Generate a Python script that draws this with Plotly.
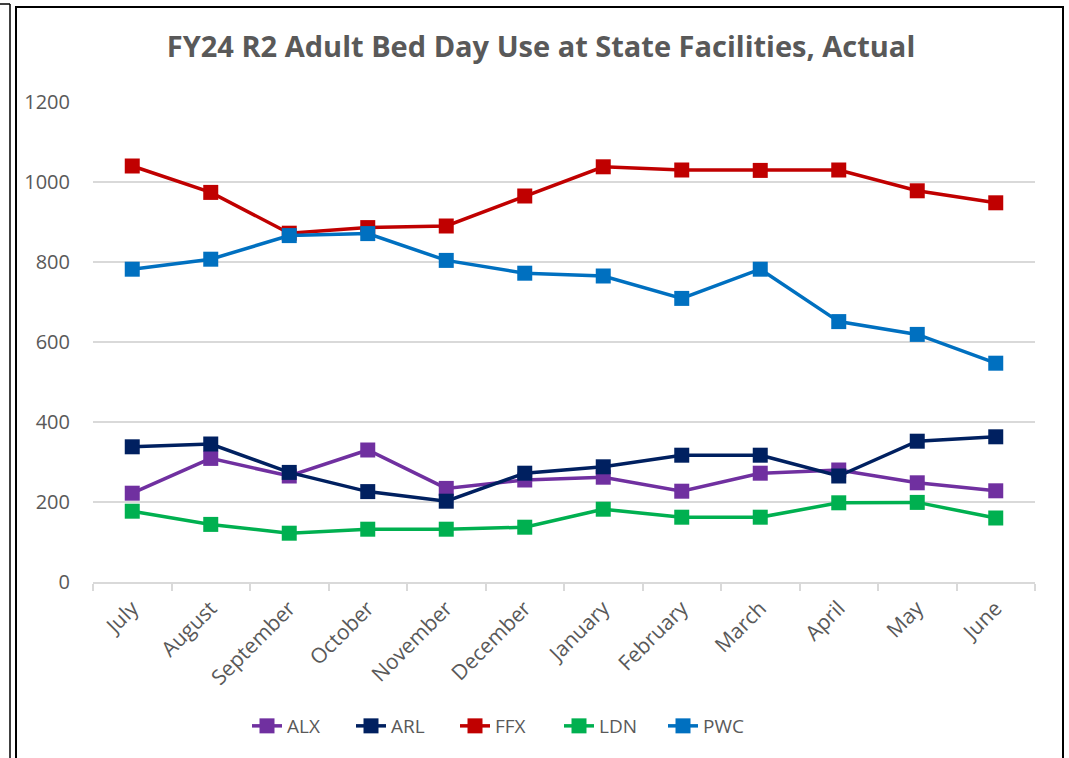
import plotly.graph_objects as go

months = ["July", "August", "September", "October", "November", "December",
          "January", "February", "March", "April", "May", "June"]

alx = [222, 309, 265, 330, 234, 255, 262, 227, 272, 280, 248, 228]
arl = [338, 345, 274, 226, 202, 272, 288, 317, 317, 265, 352, 363]
ffx = [1040, 974, 872, 886, 890, 965, 1038, 1030, 1029, 1030, 978, 948]
ldn = [177, 144, 122, 132, 132, 137, 182, 162, 162, 198, 199, 160]
pwc = [782, 807, 866, 871, 804, 772, 765, 709, 782, 651, 619, 547]

series = [
    ("ALX", alx, "#7030A0"),
    ("ARL", arl, "#002060"),
    ("FFX", ffx, "#C00000"),
    ("LDN", ldn, "#00B050"),
    ("PWC", pwc, "#0070C0"),
]

FONT = "Open Sans"
W, H = 1069, 758
L, R, T, B = 93, 1069 - 1035, 102, 758 - 582
PW, PH = W - L - R, H - T - B


def px(x):
    return (x - L) / PW


def py(y):
    return (H - B - y) / PH


fig = go.Figure()
for name, vals, color in series:
    fig.add_trace(go.Scatter(
        x=months, y=vals, name=name, mode="lines+markers",
        line=dict(color=color, width=3.5),
        marker=dict(symbol="square", size=15, color=color),
    ))

fig.update_layout(
    width=W, height=H,
    margin=dict(l=L, r=R, t=T, b=B),
    paper_bgcolor="white", plot_bgcolor="white",
    font=dict(family=FONT, color="#595959"),
    title=dict(
        text="<b>FY24 R2 Adult Bed Day Use at State Facilities, Actual</b>",
        x=541 / W, xanchor="center", y=1 - 47 / H, yanchor="middle",
        font=dict(size=29, color="#595959", family=FONT),
    ),
    showlegend=True,
    legend=dict(
        orientation="h", x=px(247), xanchor="left", y=py(726), yanchor="middle",
        font=dict(size=19, color="#595959", family=FONT),
        entrywidth=59, entrywidthmode="pixels",
    ),
    xaxis=dict(
        type="category", showgrid=False, showline=True, linecolor="#d9d9d9",
        linewidth=1.5, ticks="outside", tickson="boundaries", ticklen=7,
        tickcolor="#d9d9d9", tickwidth=1.5, tickangle=-45,
        tickfont=dict(size=21, color="#595959", family=FONT),
        ticklabelstandoff=4,
        range=[-0.5, 11.5],
    ),
    yaxis=dict(
        range=[0, 1200], dtick=200, showgrid=True, gridcolor="#d9d9d9",
        gridwidth=1.5, zeroline=False, showline=False,
        tickfont=dict(size=20, color="#595959", family=FONT),
        ticklabelstandoff=22,
    ),
    shapes=[
        dict(type="rect", xref="paper", yref="paper",
             x0=px(16), x1=px(1063), y0=py(780), y1=py(7),
             line=dict(color="black", width=2), layer="below"),
        dict(type="line", xref="paper", yref="paper",
             x0=px(10), x1=px(10), y0=py(780), y1=py(4),
             line=dict(color="black", width=1.5)),
        dict(type="line", xref="paper", yref="paper",
             x0=px(-5), x1=px(10), y0=py(4), y1=py(4),
             line=dict(color="black", width=1.5)),
    ],
)

fig.write_html("out.html", config={"displayModeBar": False},
               post_script="document.body.style.margin='0px';")
